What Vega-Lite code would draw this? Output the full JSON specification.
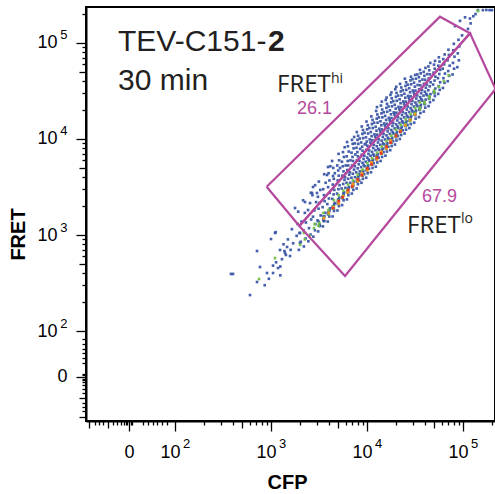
{
  "$schema": "https://vega.github.io/schema/vega-lite/v6.json",
  "width": 409,
  "height": 414,
  "autosize": {"type": "none"},
  "padding": {"left": 86, "top": 7, "right": 0, "bottom": 73},
  "background": "white",
  "config": {"view": {"stroke": "black", "strokeWidth": 2}},
  "datasets": {
    "low": [
      {"CFP":383,"FRET":393},{"CFP":402,"FRET":393},{"CFP":604,"FRET":237},{"CFP":715,"FRET":324},{"CFP":768,"FRET":464},{"CFP":715,"FRET":681},{"CFP":1000,"FRET":908},{"CFP":1101,"FRET":1050},{"CFP":1120,"FRET":1070},{"CFP":908,"FRET":402},{"CFP":1050,"FRET":402},{"CFP":1183,"FRET":453},{"CFP":1241,"FRET":698},{"CFP":1400,"FRET":649},{"CFP":1430,"FRET":620},{"CFP":1380,"FRET":680},{"CFP":1469,"FRET":750},{"CFP":1578,"FRET":604},{"CFP":2004,"FRET":826},{"CFP":2004,"FRET":1050},{"CFP":1778,"FRET":1910},{"CFP":2259,"FRET":2206},{"CFP":2673,"FRET":2739},{"CFP":2739,"FRET":3162},{"CFP":3013,"FRET":2739},{"CFP":3831,"FRET":4217},{"CFP":3925,"FRET":5109},{"CFP":4425,"FRET":4120},{"CFP":5240,"FRET":4991},
      {"CFP":1130,"FRET":520},{"CFP":1250,"FRET":470},{"CFP":1300,"FRET":560},{"CFP":1350,"FRET":800},{"CFP":1500,"FRET":900},{"CFP":1600,"FRET":700},{"CFP":1650,"FRET":1150},{"CFP":1700,"FRET":820},{"CFP":1850,"FRET":980},{"CFP":1900,"FRET":1300},{"CFP":1250,"FRET":380},{"CFP":950,"FRET":350},{"CFP":860,"FRET":300},{"CFP":1050,"FRET":480},
      {"CFP":1950,"FRET":700},{"CFP":2040,"FRET":850},{"CFP":1980,"FRET":1050},{"CFP":2080,"FRET":1380},{"CFP":1920,"FRET":1750},
      {"CFP":2200,"FRET":760},{"CFP":2290,"FRET":920},{"CFP":2180,"FRET":1120},{"CFP":2310,"FRET":1350},{"CFP":2250,"FRET":1700},{"CFP":2160,"FRET":2300},
      {"CFP":2450,"FRET":860},{"CFP":2580,"FRET":1010},{"CFP":2490,"FRET":1180},{"CFP":2620,"FRET":1450},{"CFP":2430,"FRET":1820},{"CFP":2550,"FRET":2150},{"CFP":2600,"FRET":2750},
      {"CFP":2760,"FRET":960},{"CFP":2870,"FRET":1120},{"CFP":2900,"FRET":1300},{"CFP":2740,"FRET":1550},{"CFP":2830,"FRET":1800},{"CFP":2950,"FRET":2200},{"CFP":2700,"FRET":2600},{"CFP":2880,"FRET":3300},
      {"CFP":3100,"FRET":1090},{"CFP":3230,"FRET":1250},{"CFP":3050,"FRET":1420},{"CFP":3290,"FRET":1600},{"CFP":3130,"FRET":1880},{"CFP":3200,"FRET":2150},{"CFP":3080,"FRET":2500},{"CFP":3260,"FRET":2950},{"CFP":3150,"FRET":3600},
      {"CFP":3470,"FRET":1230},{"CFP":3600,"FRET":1400},{"CFP":3520,"FRET":1560},{"CFP":3680,"FRET":1700},{"CFP":3450,"FRET":1950},{"CFP":3620,"FRET":2250},{"CFP":3560,"FRET":2600},{"CFP":3500,"FRET":3000},{"CFP":3710,"FRET":3500},{"CFP":3580,"FRET":4300},
      {"CFP":3900,"FRET":1380},{"CFP":4050,"FRET":1560},{"CFP":3950,"FRET":1720},{"CFP":4120,"FRET":1900},{"CFP":3860,"FRET":2100},{"CFP":4010,"FRET":2400},{"CFP":4090,"FRET":2750},{"CFP":3930,"FRET":3150},{"CFP":4060,"FRET":3700},{"CFP":3980,"FRET":4400},{"CFP":4150,"FRET":5200},
      {"CFP":4380,"FRET":1560},{"CFP":4530,"FRET":1780},{"CFP":4420,"FRET":1950},{"CFP":4600,"FRET":2150},{"CFP":4350,"FRET":2380},{"CFP":4490,"FRET":2650},{"CFP":4560,"FRET":2950},{"CFP":4400,"FRET":3350},{"CFP":4510,"FRET":3850},{"CFP":4620,"FRET":4400},{"CFP":4450,"FRET":5000},{"CFP":4330,"FRET":5900},
      {"CFP":4920,"FRET":1800},{"CFP":5100,"FRET":2000},{"CFP":4980,"FRET":2220},{"CFP":5150,"FRET":2450},{"CFP":4880,"FRET":2700},{"CFP":5040,"FRET":3000},{"CFP":5180,"FRET":3300},{"CFP":4950,"FRET":3700},{"CFP":5080,"FRET":4150},{"CFP":5010,"FRET":4700},{"CFP":4900,"FRET":5300},{"CFP":5120,"FRET":6000},{"CFP":5060,"FRET":7000},
      {"CFP":5500,"FRET":2050},{"CFP":5700,"FRET":2300},{"CFP":5580,"FRET":2520},{"CFP":5780,"FRET":2780},{"CFP":5450,"FRET":3050},{"CFP":5650,"FRET":3400},{"CFP":5820,"FRET":3750},{"CFP":5540,"FRET":4150},{"CFP":5690,"FRET":4600},{"CFP":5600,"FRET":5200},{"CFP":5480,"FRET":5800},{"CFP":5750,"FRET":6500},{"CFP":5620,"FRET":7300},{"CFP":5850,"FRET":8200},
      {"CFP":6180,"FRET":2350},{"CFP":6400,"FRET":2600},{"CFP":6250,"FRET":2880},{"CFP":6480,"FRET":3150},{"CFP":6120,"FRET":3500},{"CFP":6350,"FRET":3850},{"CFP":6520,"FRET":4250},{"CFP":6220,"FRET":4750},{"CFP":6380,"FRET":5300},{"CFP":6290,"FRET":5900},{"CFP":6150,"FRET":6600},{"CFP":6450,"FRET":7400},{"CFP":6330,"FRET":8400},{"CFP":6200,"FRET":9300},
      {"CFP":6950,"FRET":2700},{"CFP":7200,"FRET":2950},{"CFP":7010,"FRET":3280},{"CFP":7290,"FRET":3600},{"CFP":6880,"FRET":3950},{"CFP":7120,"FRET":4350},{"CFP":7320,"FRET":4800},{"CFP":6990,"FRET":5300},{"CFP":7150,"FRET":5900},{"CFP":7060,"FRET":6500},{"CFP":6900,"FRET":7200},{"CFP":7250,"FRET":8000},{"CFP":7100,"FRET":8900},{"CFP":6980,"FRET":9800},{"CFP":7350,"FRET":10500},
      {"CFP":7800,"FRET":3050},{"CFP":8050,"FRET":3380},{"CFP":7880,"FRET":3720},{"CFP":8150,"FRET":4100},{"CFP":7720,"FRET":4500},{"CFP":7990,"FRET":4950},{"CFP":8200,"FRET":5450},{"CFP":7850,"FRET":6000},{"CFP":8020,"FRET":6600},{"CFP":7930,"FRET":7300},{"CFP":7760,"FRET":8100},{"CFP":8120,"FRET":8900},{"CFP":7960,"FRET":9800},{"CFP":8080,"FRET":10800},{"CFP":7830,"FRET":11800},{"CFP":8250,"FRET":4300},
      {"CFP":8750,"FRET":3500},{"CFP":9050,"FRET":3850},{"CFP":8850,"FRET":4250},{"CFP":9150,"FRET":4650},{"CFP":8680,"FRET":5100},{"CFP":8980,"FRET":5650},{"CFP":9200,"FRET":6200},{"CFP":8800,"FRET":6850},{"CFP":9000,"FRET":7550},{"CFP":8900,"FRET":8300},{"CFP":8700,"FRET":9200},{"CFP":9120,"FRET":10200},{"CFP":8950,"FRET":11300},{"CFP":9080,"FRET":12400},{"CFP":8820,"FRET":13500},{"CFP":9250,"FRET":5350},
      {"CFP":9800,"FRET":3950},{"CFP":10150,"FRET":4400},{"CFP":9920,"FRET":4850},{"CFP":10300,"FRET":5300},{"CFP":9700,"FRET":5800},{"CFP":10050,"FRET":6400},{"CFP":10350,"FRET":7000},{"CFP":9850,"FRET":7700},{"CFP":10100,"FRET":8500},{"CFP":9950,"FRET":9400},{"CFP":9750,"FRET":10400},{"CFP":10250,"FRET":11400},{"CFP":10020,"FRET":12600},{"CFP":10180,"FRET":13900},{"CFP":9880,"FRET":15200},{"CFP":10400,"FRET":6100},{"CFP":9650,"FRET":8900},
      {"CFP":11000,"FRET":4500},{"CFP":11400,"FRET":5000},{"CFP":11120,"FRET":5550},{"CFP":11550,"FRET":6100},{"CFP":10900,"FRET":6700},{"CFP":11280,"FRET":7350},{"CFP":11600,"FRET":8050},{"CFP":11050,"FRET":8850},{"CFP":11350,"FRET":9700},{"CFP":11180,"FRET":10700},{"CFP":10950,"FRET":11800},{"CFP":11480,"FRET":13000},{"CFP":11250,"FRET":14300},{"CFP":11420,"FRET":15800},{"CFP":11080,"FRET":17200},{"CFP":11650,"FRET":6900},{"CFP":10850,"FRET":9200},
      {"CFP":12350,"FRET":5150},{"CFP":12800,"FRET":5700},{"CFP":12480,"FRET":6300},{"CFP":12950,"FRET":6950},{"CFP":12250,"FRET":7650},{"CFP":12650,"FRET":8400},{"CFP":13000,"FRET":9200},{"CFP":12400,"FRET":10100},{"CFP":12750,"FRET":11100},{"CFP":12550,"FRET":12200},{"CFP":12300,"FRET":13400},{"CFP":12880,"FRET":14800},{"CFP":12620,"FRET":16300},{"CFP":12820,"FRET":18000},{"CFP":12450,"FRET":19600},{"CFP":13100,"FRET":7900},{"CFP":12180,"FRET":10600},{"CFP":12700,"FRET":21500},
      {"CFP":13850,"FRET":5900},{"CFP":14350,"FRET":6500},{"CFP":14000,"FRET":7200},{"CFP":14550,"FRET":7950},{"CFP":13750,"FRET":8700},{"CFP":14200,"FRET":9600},{"CFP":14600,"FRET":10500},{"CFP":13900,"FRET":11500},{"CFP":14300,"FRET":12600},{"CFP":14100,"FRET":13900},{"CFP":13800,"FRET":15300},{"CFP":14450,"FRET":16800},{"CFP":14150,"FRET":18500},{"CFP":14400,"FRET":20300},{"CFP":13950,"FRET":22300},{"CFP":14700,"FRET":9000},{"CFP":13700,"FRET":12100},{"CFP":14250,"FRET":24500},
      {"CFP":15550,"FRET":6700},{"CFP":16100,"FRET":7400},{"CFP":15700,"FRET":8200},{"CFP":16300,"FRET":9050},{"CFP":15400,"FRET":9900},{"CFP":15950,"FRET":10900},{"CFP":16400,"FRET":12000},{"CFP":15600,"FRET":13100},{"CFP":16050,"FRET":14400},{"CFP":15800,"FRET":15800},{"CFP":15450,"FRET":17400},{"CFP":16200,"FRET":19200},{"CFP":15900,"FRET":21100},{"CFP":16150,"FRET":23200},{"CFP":15650,"FRET":25500},{"CFP":16500,"FRET":10300},{"CFP":15350,"FRET":13800},{"CFP":16000,"FRET":27000},
      {"CFP":17450,"FRET":7650},{"CFP":18050,"FRET":8450},{"CFP":17600,"FRET":9350},{"CFP":18300,"FRET":10300},{"CFP":17300,"FRET":11300},{"CFP":17900,"FRET":12400},{"CFP":18400,"FRET":13700},{"CFP":17500,"FRET":15000},{"CFP":18000,"FRET":16500},{"CFP":17750,"FRET":18100},{"CFP":17350,"FRET":19900},{"CFP":18200,"FRET":21900},{"CFP":17850,"FRET":24100},{"CFP":18100,"FRET":26500},{"CFP":17550,"FRET":28800},{"CFP":18500,"FRET":11800},{"CFP":17200,"FRET":15700},{"CFP":17950,"FRET":30500},
      {"CFP":19550,"FRET":8750},{"CFP":20250,"FRET":9650},{"CFP":19750,"FRET":10700},{"CFP":20500,"FRET":11800},{"CFP":19400,"FRET":12900},{"CFP":20100,"FRET":14200},{"CFP":20650,"FRET":15600},{"CFP":19650,"FRET":17100},{"CFP":20200,"FRET":18800},{"CFP":19900,"FRET":20700},{"CFP":19450,"FRET":22700},{"CFP":20400,"FRET":25000},{"CFP":20000,"FRET":27500},{"CFP":20300,"FRET":30200},{"CFP":19700,"FRET":33000},{"CFP":20800,"FRET":13500},{"CFP":19300,"FRET":18000},{"CFP":20150,"FRET":35000},
      {"CFP":21950,"FRET":10000},{"CFP":22700,"FRET":11000},{"CFP":22150,"FRET":12200},{"CFP":23000,"FRET":13400},{"CFP":21800,"FRET":14700},{"CFP":22550,"FRET":16200},{"CFP":23150,"FRET":17800},{"CFP":22050,"FRET":19500},{"CFP":22650,"FRET":21400},{"CFP":22350,"FRET":23600},{"CFP":21850,"FRET":25900},{"CFP":22900,"FRET":28500},{"CFP":22450,"FRET":31300},{"CFP":22750,"FRET":34400},{"CFP":22100,"FRET":37500},{"CFP":23300,"FRET":15300},{"CFP":21700,"FRET":20500},
      {"CFP":24600,"FRET":11400},{"CFP":25500,"FRET":12500},{"CFP":24850,"FRET":13900},{"CFP":25800,"FRET":15300},{"CFP":24400,"FRET":16800},{"CFP":25300,"FRET":18500},{"CFP":25950,"FRET":20300},{"CFP":24700,"FRET":22300},{"CFP":25400,"FRET":24500},{"CFP":25050,"FRET":26900},{"CFP":24500,"FRET":29600},{"CFP":25650,"FRET":32500},{"CFP":25200,"FRET":35700},{"CFP":25550,"FRET":39000},{"CFP":24800,"FRET":42500},{"CFP":26100,"FRET":17500},{"CFP":24300,"FRET":23400},
      {"CFP":27600,"FRET":13000},{"CFP":28600,"FRET":14300},{"CFP":27900,"FRET":15800},{"CFP":28900,"FRET":17400},{"CFP":27400,"FRET":19100},{"CFP":28400,"FRET":21000},{"CFP":29100,"FRET":23100},{"CFP":27700,"FRET":25400},{"CFP":28500,"FRET":27900},{"CFP":28100,"FRET":30700},{"CFP":27500,"FRET":33800},{"CFP":28800,"FRET":37100},{"CFP":28300,"FRET":40800},{"CFP":28700,"FRET":44500},{"CFP":29300,"FRET":20000},{"CFP":27300,"FRET":26700},
      {"CFP":31000,"FRET":14800},{"CFP":32100,"FRET":16300},{"CFP":31300,"FRET":18000},{"CFP":32400,"FRET":19800},{"CFP":30800,"FRET":21800},{"CFP":31900,"FRET":24000},{"CFP":32600,"FRET":26400},{"CFP":31100,"FRET":29000},{"CFP":32000,"FRET":31900},{"CFP":31500,"FRET":35100},{"CFP":30900,"FRET":38600},{"CFP":32300,"FRET":42400},{"CFP":31700,"FRET":46500},{"CFP":32800,"FRET":22800},{"CFP":30700,"FRET":30500},
      {"CFP":34800,"FRET":16900},{"CFP":36000,"FRET":18600},{"CFP":35100,"FRET":20500},{"CFP":36400,"FRET":22600},{"CFP":34600,"FRET":24800},{"CFP":35800,"FRET":27300},{"CFP":36600,"FRET":30000},{"CFP":34900,"FRET":33000},{"CFP":35900,"FRET":36300},{"CFP":35300,"FRET":40000},{"CFP":34700,"FRET":44000},{"CFP":36200,"FRET":48300},{"CFP":35600,"FRET":52500},{"CFP":36800,"FRET":26000},
      {"CFP":39000,"FRET":19300},{"CFP":40400,"FRET":21200},{"CFP":39400,"FRET":23400},{"CFP":40800,"FRET":25700},{"CFP":38800,"FRET":28300},{"CFP":40100,"FRET":31100},{"CFP":41000,"FRET":34200},{"CFP":39200,"FRET":37600},{"CFP":40300,"FRET":41400},{"CFP":39600,"FRET":45500},{"CFP":38900,"FRET":50000},{"CFP":40600,"FRET":55000},{"CFP":41300,"FRET":29500},
      {"CFP":43800,"FRET":22000},{"CFP":45300,"FRET":24200},{"CFP":44200,"FRET":26700},{"CFP":45800,"FRET":29300},{"CFP":43500,"FRET":32200},{"CFP":45000,"FRET":35400},{"CFP":46000,"FRET":39000},{"CFP":44000,"FRET":42900},{"CFP":45200,"FRET":47200},{"CFP":44500,"FRET":52000},{"CFP":43600,"FRET":57000},{"CFP":45600,"FRET":62000},
      {"CFP":49100,"FRET":25400},{"CFP":50900,"FRET":28000},{"CFP":49600,"FRET":30500},{"CFP":51400,"FRET":33500},{"CFP":48800,"FRET":36900},{"CFP":50500,"FRET":40600},{"CFP":51600,"FRET":44600},{"CFP":49300,"FRET":49100},{"CFP":50700,"FRET":54000},{"CFP":49900,"FRET":59500},{"CFP":51100,"FRET":65000},
      {"CFP":55100,"FRET":29500},{"CFP":57100,"FRET":32500},{"CFP":55700,"FRET":35500},{"CFP":57700,"FRET":39000},{"CFP":54800,"FRET":43000},{"CFP":56600,"FRET":47500},{"CFP":57900,"FRET":52500},{"CFP":55300,"FRET":58000},{"CFP":56900,"FRET":64000},{"CFP":56000,"FRET":71000},
      {"CFP":61800,"FRET":34000},{"CFP":64100,"FRET":38500},{"CFP":62500,"FRET":43000},{"CFP":64800,"FRET":48000},{"CFP":61500,"FRET":54000},{"CFP":63600,"FRET":60000},{"CFP":62200,"FRET":68000},{"CFP":64400,"FRET":76000},
      {"CFP":69300,"FRET":40000},{"CFP":71900,"FRET":45500},{"CFP":70100,"FRET":51000},{"CFP":72600,"FRET":58000},{"CFP":69000,"FRET":66000},{"CFP":71300,"FRET":75000},{"CFP":70500,"FRET":85000},
      {"CFP":77800,"FRET":47000},{"CFP":80700,"FRET":54000},{"CFP":78600,"FRET":62000},{"CFP":81500,"FRET":72000},{"CFP":79100,"FRET":84000},{"CFP":80200,"FRET":98000},
      {"CFP":87300,"FRET":56000},{"CFP":90500,"FRET":66000},{"CFP":88200,"FRET":78000},{"CFP":91400,"FRET":92000},{"CFP":89700,"FRET":108000},
      {"CFP":82600,"FRET":150000},{"CFP":97700,"FRET":120000},{"CFP":93000,"FRET":170000},{"CFP":112700,"FRET":140000},{"CFP":105000,"FRET":185000},{"CFP":120000,"FRET":160000},
      {"CFP":143000,"FRET":220000},{"CFP":161000,"FRET":220000},{"CFP":175000,"FRET":221000},{"CFP":189000,"FRET":220000},{"CFP":200000,"FRET":220000},{"CFP":128000,"FRET":190000},{"CFP":118000,"FRET":180000},{"CFP":135000,"FRET":200000},
      {"CFP":3210,"FRET":1290},{"CFP":3130,"FRET":1380},{"CFP":3190,"FRET":1240},
      {"CFP":3500,"FRET":1450},{"CFP":3600,"FRET":1560},{"CFP":3530,"FRET":1400},
      {"CFP":4030,"FRET":1740},{"CFP":3930,"FRET":1640},{"CFP":4070,"FRET":1820},
      {"CFP":4520,"FRET":1900},{"CFP":4410,"FRET":1990},{"CFP":4550,"FRET":2080},
      {"CFP":4950,"FRET":2120},{"CFP":5090,"FRET":2300},{"CFP":5000,"FRET":2350},
      {"CFP":5700,"FRET":2620},{"CFP":5560,"FRET":2420},{"CFP":5660,"FRET":2700},
      {"CFP":6380,"FRET":2780},{"CFP":6240,"FRET":2920},{"CFP":6400,"FRET":3050},
      {"CFP":7150,"FRET":3400},{"CFP":7000,"FRET":3150},{"CFP":7180,"FRET":3250},
      {"CFP":8020,"FRET":3850},{"CFP":7870,"FRET":3600},{"CFP":8060,"FRET":3950},
      {"CFP":9000,"FRET":4150},{"CFP":8830,"FRET":4350},{"CFP":9030,"FRET":4550},
      {"CFP":10080,"FRET":4950},{"CFP":9900,"FRET":4700},{"CFP":10130,"FRET":5150},
      {"CFP":11320,"FRET":5400},{"CFP":11120,"FRET":5650},{"CFP":11380,"FRET":5900},
      {"CFP":12720,"FRET":6450},{"CFP":12480,"FRET":6150},{"CFP":12760,"FRET":6700},
      {"CFP":14260,"FRET":7050},{"CFP":14020,"FRET":7350},{"CFP":14310,"FRET":7700},
      {"CFP":16000,"FRET":8400},{"CFP":15720,"FRET":7950},{"CFP":16050,"FRET":8700},
      {"CFP":17950,"FRET":9150},{"CFP":17620,"FRET":9550},{"CFP":18000,"FRET":9900},
      {"CFP":20150,"FRET":10400},{"CFP":19780,"FRET":10900},{"CFP":20200,"FRET":11300},
      {"CFP":22600,"FRET":12400},{"CFP":22200,"FRET":11900},{"CFP":22650,"FRET":12800},
      {"CFP":25350,"FRET":13600},{"CFP":24900,"FRET":14100},{"CFP":25400,"FRET":14700},
      {"CFP":28450,"FRET":16100},{"CFP":27950,"FRET":15500},{"CFP":28500,"FRET":16800},
      {"CFP":31900,"FRET":17700},{"CFP":31350,"FRET":18400},{"CFP":31950,"FRET":19100},
      {"CFP":35800,"FRET":20900},{"CFP":35200,"FRET":20100},{"CFP":35850,"FRET":21700},
      {"CFP":40100,"FRET":23000},{"CFP":39500,"FRET":23900},
      {"CFP":45000,"FRET":27100},{"CFP":44300,"FRET":26200},
      {"CFP":50500,"FRET":30000},{"CFP":49800,"FRET":31000},
      {"CFP":8420,"FRET":4600},{"CFP":8350,"FRET":5900},{"CFP":8480,"FRET":7900},{"CFP":8400,"FRET":10100},{"CFP":8300,"FRET":3700},
      {"CFP":9440,"FRET":5200},{"CFP":9380,"FRET":6700},{"CFP":9500,"FRET":8800},{"CFP":9420,"FRET":11600},{"CFP":9350,"FRET":4300},
      {"CFP":10590,"FRET":5900},{"CFP":10520,"FRET":7600},{"CFP":10650,"FRET":9900},{"CFP":10560,"FRET":13000},{"CFP":10480,"FRET":4900},
      {"CFP":11890,"FRET":6700},{"CFP":11800,"FRET":8700},{"CFP":11950,"FRET":11200},{"CFP":11850,"FRET":14800},{"CFP":11750,"FRET":5600},
      {"CFP":13340,"FRET":7700},{"CFP":13250,"FRET":9900},{"CFP":13420,"FRET":12800},{"CFP":13300,"FRET":16800},{"CFP":13200,"FRET":6400},
      {"CFP":14960,"FRET":8800},{"CFP":14880,"FRET":11300},{"CFP":15050,"FRET":14500},{"CFP":14920,"FRET":19000},{"CFP":14850,"FRET":7300},
      {"CFP":16790,"FRET":10000},{"CFP":16700,"FRET":12900},{"CFP":16880,"FRET":16600},{"CFP":16750,"FRET":21800},{"CFP":16650,"FRET":8300},
      {"CFP":18840,"FRET":11400},{"CFP":18750,"FRET":14700},{"CFP":18950,"FRET":18900},{"CFP":18800,"FRET":24800},{"CFP":18700,"FRET":9500},
      {"CFP":21130,"FRET":13000},{"CFP":21050,"FRET":16800},{"CFP":21250,"FRET":21600},{"CFP":21100,"FRET":28300},{"CFP":20950,"FRET":10800},
      {"CFP":23710,"FRET":14800},{"CFP":23600,"FRET":19100},{"CFP":23850,"FRET":24600},{"CFP":23650,"FRET":32200},{"CFP":23500,"FRET":12300},
      {"CFP":26610,"FRET":16900},{"CFP":26500,"FRET":21800},{"CFP":26750,"FRET":28100},{"CFP":26550,"FRET":36800},{"CFP":26400,"FRET":14000},
      {"CFP":29850,"FRET":19300},{"CFP":29700,"FRET":24900},{"CFP":30000,"FRET":32000},{"CFP":29800,"FRET":42000},
      {"CFP":33500,"FRET":22000},{"CFP":33350,"FRET":28400},{"CFP":33650,"FRET":36500},{"CFP":33450,"FRET":47000},
      {"CFP":37580,"FRET":25100},{"CFP":37400,"FRET":32300},{"CFP":37750,"FRET":41600},
      {"CFP":42170,"FRET":28600},{"CFP":42000,"FRET":36900},{"CFP":42350,"FRET":47400},
      {"CFP":7500,"FRET":4000},{"CFP":7450,"FRET":5200},{"CFP":7550,"FRET":6900},{"CFP":7480,"FRET":9000},
      {"CFP":6680,"FRET":3500},{"CFP":6630,"FRET":4500},{"CFP":6720,"FRET":6000},
      {"CFP":5960,"FRET":3100},{"CFP":5900,"FRET":4000},{"CFP":6000,"FRET":5300}
    ],
    "mid": [
      {"CFP":750,"FRET":348},{"CFP":1101,"FRET":575},{"CFP":143000,"FRET":215000},
      {"CFP":2010,"FRET":790},{"CFP":2250,"FRET":900},{"CFP":2200,"FRET":1050},{"CFP":2530,"FRET":980},{"CFP":2800,"FRET":1180},{"CFP":2850,"FRET":1300},
      {"CFP":3180,"FRET":1330},{"CFP":3120,"FRET":1250},{"CFP":3560,"FRET":1520},{"CFP":3500,"FRET":1700},{"CFP":4000,"FRET":1650},{"CFP":3960,"FRET":1820},
      {"CFP":4480,"FRET":1980},{"CFP":4430,"FRET":1880},{"CFP":4520,"FRET":2300},{"CFP":5030,"FRET":2150},{"CFP":4990,"FRET":2280},{"CFP":5060,"FRET":2600},
      {"CFP":5640,"FRET":2560},{"CFP":5600,"FRET":2450},{"CFP":5680,"FRET":2900},{"CFP":6330,"FRET":2820},{"CFP":6280,"FRET":2950},{"CFP":6360,"FRET":3350},
      {"CFP":7100,"FRET":3300},{"CFP":7050,"FRET":3180},{"CFP":7130,"FRET":3700},{"CFP":7960,"FRET":3680},{"CFP":7900,"FRET":3850},{"CFP":8000,"FRET":4250},
      {"CFP":8930,"FRET":4300},{"CFP":8880,"FRET":4150},{"CFP":8970,"FRET":4800},{"CFP":10020,"FRET":4800},{"CFP":9960,"FRET":5000},{"CFP":10080,"FRET":5600},
      {"CFP":11250,"FRET":5600},{"CFP":11190,"FRET":5400},{"CFP":11300,"FRET":6300},{"CFP":12610,"FRET":6250},{"CFP":12550,"FRET":6500},{"CFP":12700,"FRET":7200},
      {"CFP":14150,"FRET":7250},{"CFP":14080,"FRET":7000},{"CFP":14250,"FRET":8300},{"CFP":15880,"FRET":8100},{"CFP":15800,"FRET":8450},{"CFP":15950,"FRET":9500},
      {"CFP":17800,"FRET":9400},{"CFP":17720,"FRET":9100},{"CFP":17900,"FRET":10800},{"CFP":19980,"FRET":10600},{"CFP":19900,"FRET":11000},{"CFP":20100,"FRET":12500},
      {"CFP":22420,"FRET":12200},{"CFP":22350,"FRET":11800},{"CFP":22500,"FRET":14000},{"CFP":25150,"FRET":13800},{"CFP":25080,"FRET":14300},{"CFP":25300,"FRET":16000},
      {"CFP":28200,"FRET":15900},{"CFP":28120,"FRET":15300},{"CFP":28400,"FRET":18200},{"CFP":31650,"FRET":18100},{"CFP":31580,"FRET":18600},{"CFP":31800,"FRET":21000},
      {"CFP":35500,"FRET":20400},{"CFP":35430,"FRET":21200},{"CFP":35700,"FRET":24000},{"CFP":39850,"FRET":23500},{"CFP":39750,"FRET":24300},
      {"CFP":44700,"FRET":26500},{"CFP":44600,"FRET":27800},{"CFP":50150,"FRET":30500},{"CFP":50050,"FRET":32000},{"CFP":56250,"FRET":35000},{"CFP":63150,"FRET":40000},{"CFP":70800,"FRET":46000}
    ],
    "high": [
      {"CFP":3550,"FRET":1490},{"CFP":3990,"FRET":1710},{"CFP":4470,"FRET":1940},{"CFP":5020,"FRET":2230},{"CFP":5080,"FRET":2120},{"CFP":5630,"FRET":2530},
      {"CFP":6320,"FRET":2880},{"CFP":6250,"FRET":2760},{"CFP":7090,"FRET":3290},{"CFP":7160,"FRET":3420},{"CFP":7950,"FRET":3760},{"CFP":8050,"FRET":3620},
      {"CFP":8920,"FRET":4280},{"CFP":8820,"FRET":4420},{"CFP":10010,"FRET":4870},{"CFP":10120,"FRET":4700},{"CFP":11230,"FRET":5560},{"CFP":11100,"FRET":5720},
      {"CFP":12600,"FRET":6330},{"CFP":12750,"FRET":6120},{"CFP":14140,"FRET":7220},{"CFP":14000,"FRET":7420},{"CFP":15860,"FRET":8230},{"CFP":16020,"FRET":7980},
      {"CFP":17790,"FRET":9380},{"CFP":17600,"FRET":9680},{"CFP":19960,"FRET":10700},{"CFP":22400,"FRET":12200},{"CFP":25130,"FRET":13900},{"CFP":28190,"FRET":15850},{"CFP":31630,"FRET":18100}
    ],
    "peak": [
      {"CFP":4420,"FRET":1900},{"CFP":5080,"FRET":2260},{"CFP":5580,"FRET":2470},{"CFP":6380,"FRET":2950},{"CFP":7010,"FRET":3200},{"CFP":8020,"FRET":3800},
      {"CFP":8830,"FRET":4180},{"CFP":10100,"FRET":4950},{"CFP":11120,"FRET":5430},{"CFP":12700,"FRET":6420},{"CFP":14010,"FRET":7050},{"CFP":15990,"FRET":8350},
      {"CFP":17620,"FRET":9150},{"CFP":20100,"FRET":10850},{"CFP":22200,"FRET":11900}
    ],
    "gates": [
      {"gate":"FRET hi","vertex":1,"CFP":901,"FRET":3187},
      {"gate":"FRET hi","vertex":2,"CFP":57540,"FRET":187900},
      {"gate":"FRET hi","vertex":3,"CFP":118300,"FRET":126200},
      {"gate":"FRET hi","vertex":4,"CFP":1972,"FRET":1241},
      {"gate":"FRET hi","vertex":5,"CFP":901,"FRET":3187},
      {"gate":"FRET lo","vertex":1,"CFP":1972,"FRET":1241},
      {"gate":"FRET lo","vertex":2,"CFP":118300,"FRET":126200},
      {"gate":"FRET lo","vertex":3,"CFP":218100,"FRET":33190},
      {"gate":"FRET lo","vertex":4,"CFP":5902,"FRET":374},
      {"gate":"FRET lo","vertex":5,"CFP":1972,"FRET":1241}
    ]
  },
  "layer": [
    {
      "encoding": {
        "x": {
          "field": "CFP",
          "type": "quantitative",
          "scale": {"type": "log", "domain": [11.83, 215300], "nice": false, "zero": false},
          "axis": {
            "title": "CFP",
            "orient": "bottom",
            "grid": false,
            "values": [12.7,14.7,16.2,17.8,20.1,22.6,24.9,27.4,29.4,30.9,32,33.2,34.4,35.6,46.4,52.4,59,65,73.2,82.6,100,200,300,400,500,600,700,800,900,1000,2000,3000,4000,5000,6000,7000,8000,9000,10000,20000,30000,40000,50000,60000,70000,80000,90000,100000,200000],
            "labelExpr": "datum.value == 33.2 ? '0' : indexof([100,1000,10000,100000], datum.value) >= 0 ? '10' : ''",
            "labelOffset": {"condition": {"test": "datum.value == 33.2", "value": 0}, "value": -5},
            "tickSize": {"condition": [{"test": "indexof([33.2,100,1000,10000,100000], datum.value) >= 0", "value": 10}, {"test": "indexof([12.7,20.1,500,5000,50000], datum.value) >= 0", "value": 7}], "value": 4},
            "tickColor": "black",
            "tickWidth": 1.3,
            "domainColor": "black",
            "domainWidth": 2,
            "labelFont": "Liberation Sans",
            "labelFontSize": 18,
            "labelColor": "black",
            "labelPadding": 12,
            "labelOverlap": false,
            "labelFlush": false,
            "labelBound": false,
            "titleFont": "Liberation Sans",
            "titleFontSize": 20,
            "titleFontWeight": "bold",
            "titleColor": "black",
            "titleX": 201,
            "titleY": 67,
            "titleAlign": "center",
            "titleBaseline": "alphabetic"
          }
        },
        "y": {
          "field": "FRET",
          "type": "quantitative",
          "scale": {"type": "log", "domain": [11.55, 237100], "nice": false, "zero": false},
          "axis": {
            "title": "FRET",
            "orient": "left",
            "grid": false,
            "values": [12.7,14.7,16.2,17.8,20.1,22.6,24.9,27.4,29.4,30.9,32,33.2,34.4,35.6,46.4,52.4,59,65,73.2,82.6,100,200,300,400,500,600,700,800,900,1000,2000,3000,4000,5000,6000,7000,8000,9000,10000,20000,30000,40000,50000,60000,70000,80000,90000,100000,200000],
            "labelExpr": "datum.value == 33.2 ? '0' : indexof([100,1000,10000,100000], datum.value) >= 0 ? '10' : ''",
            "labelPadding": {"condition": {"test": "datum.value == 33.2", "value": 9}, "value": 19},
            "tickSize": {"condition": [{"test": "indexof([33.2,100,1000,10000,100000], datum.value) >= 0", "value": 10}, {"test": "indexof([12.7,20.1,500,5000,50000], datum.value) >= 0", "value": 7}], "value": 4},
            "tickColor": "black",
            "tickWidth": 1.3,
            "domainColor": "black",
            "domainWidth": 2,
            "labelFont": "Liberation Sans",
            "labelFontSize": 18,
            "labelColor": "black",
            "labelOverlap": false,
            "labelFlush": false,
            "labelBound": false,
            "titleFont": "Liberation Sans",
            "titleFontSize": 20,
            "titleFontWeight": "bold",
            "titleColor": "black",
            "titleX": -68,
            "titleY": 227,
            "titleAlign": "center",
            "titleBaseline": "middle"
          }
        }
      },
      "layer": [
        {"data": {"name": "low"}, "mark": {"type": "square", "size": 7, "filled": true, "color": "#3b56a6", "opacity": 0.95}},
        {"data": {"name": "mid"}, "mark": {"type": "square", "size": 7, "filled": true, "color": "#72bf44", "opacity": 0.95}},
        {"data": {"name": "high"}, "mark": {"type": "square", "size": 7, "filled": true, "color": "#f7941d", "opacity": 0.95}},
        {"data": {"name": "peak"}, "mark": {"type": "square", "size": 7, "filled": true, "color": "#e8312a", "opacity": 0.95}},
        {
          "data": {"name": "gates"},
          "mark": {"type": "line", "color": "#b5499e", "strokeWidth": 2.2, "clip": true, "strokeJoin": "miter"},
          "encoding": {"detail": {"field": "gate"}, "order": {"field": "vertex", "type": "quantitative"}}
        },
        {
          "data": {"values": [{"CFP": 25.5, "FRET": 82600, "label": "TEV-C151-"}, {"CFP": 25.5, "FRET": 32370, "label": "30 min"}]},
          "mark": {"type": "text", "align": "left", "baseline": "alphabetic", "font": "Liberation Sans", "fontSize": 30, "color": "#231f20"},
          "encoding": {"text": {"field": "label"}}
        },
        {
          "data": {"values": [{"CFP": 931, "FRET": 82600, "label": "2"}]},
          "mark": {"type": "text", "align": "left", "baseline": "alphabetic", "font": "Liberation Sans", "fontSize": 30, "fontWeight": "bold", "color": "#231f20"},
          "encoding": {"text": {"field": "label"}}
        },
        {
          "data": {"values": [{"CFP": 1155, "FRET": 30900, "label": "FRET"}, {"CFP": 26100, "FRET": 1050, "label": "FRET"}]},
          "mark": {"type": "text", "align": "left", "baseline": "alphabetic", "font": "Open Sans", "fontSize": 24, "color": "#231f20"},
          "encoding": {"text": {"field": "label"}}
        },
        {
          "data": {"values": [{"CFP": 4217, "FRET": 38300, "label": "hi"}, {"CFP": 95300, "FRET": 1334, "label": "lo"}]},
          "mark": {"type": "text", "align": "left", "baseline": "alphabetic", "font": "Open Sans", "fontSize": 14, "color": "#231f20"},
          "encoding": {"text": {"field": "label"}}
        },
        {
          "data": {"values": [{"CFP": 1866, "FRET": 18200, "label": "26.1"}, {"CFP": 37400, "FRET": 2208, "label": "67.9"}]},
          "mark": {"type": "text", "align": "left", "baseline": "alphabetic", "font": "Liberation Sans", "fontSize": 18, "color": "#b5499e"},
          "encoding": {"text": {"field": "label"}}
        }
      ]
    },
    {
      "data": {"name": "peak"},
      "mark": {"type": "point", "opacity": 0},
      "encoding": {
        "x": {
          "field": "CFP",
          "type": "quantitative",
          "scale": {"type": "log", "domain": [11.83, 215300], "nice": false, "zero": false},
          "axis": {
            "title": null,
            "orient": "bottom",
            "grid": false,
            "domain": false,
            "values": [100, 1000, 10000, 100000],
            "labelExpr": "datum.value == 100 ? '2' : datum.value == 1000 ? '3' : datum.value == 10000 ? '4' : '5'",
            "tickSize": 10,
            "tickOpacity": 0,
            "labelOffset": 11,
            "labelPadding": 6,
            "labelFont": "Liberation Sans",
            "labelFontSize": 13,
            "labelColor": "black",
            "labelOverlap": false,
            "labelBound": false,
            "labelFlush": false
          }
        },
        "y": {
          "field": "FRET",
          "type": "quantitative",
          "scale": {"type": "log", "domain": [11.55, 237100], "nice": false, "zero": false},
          "axis": {
            "title": null,
            "orient": "left",
            "grid": false,
            "domain": false,
            "values": [100, 1000, 10000, 100000],
            "labelExpr": "datum.value == 100 ? '2' : datum.value == 1000 ? '3' : datum.value == 10000 ? '4' : '5'",
            "tickSize": 10,
            "tickOpacity": 0,
            "labelOffset": -8,
            "labelPadding": 9,
            "labelFont": "Liberation Sans",
            "labelFontSize": 13,
            "labelColor": "black",
            "labelOverlap": false,
            "labelBound": false,
            "labelFlush": false
          }
        }
      }
    }
  ],
  "resolve": {"axis": {"x": "independent", "y": "independent"}}
}
